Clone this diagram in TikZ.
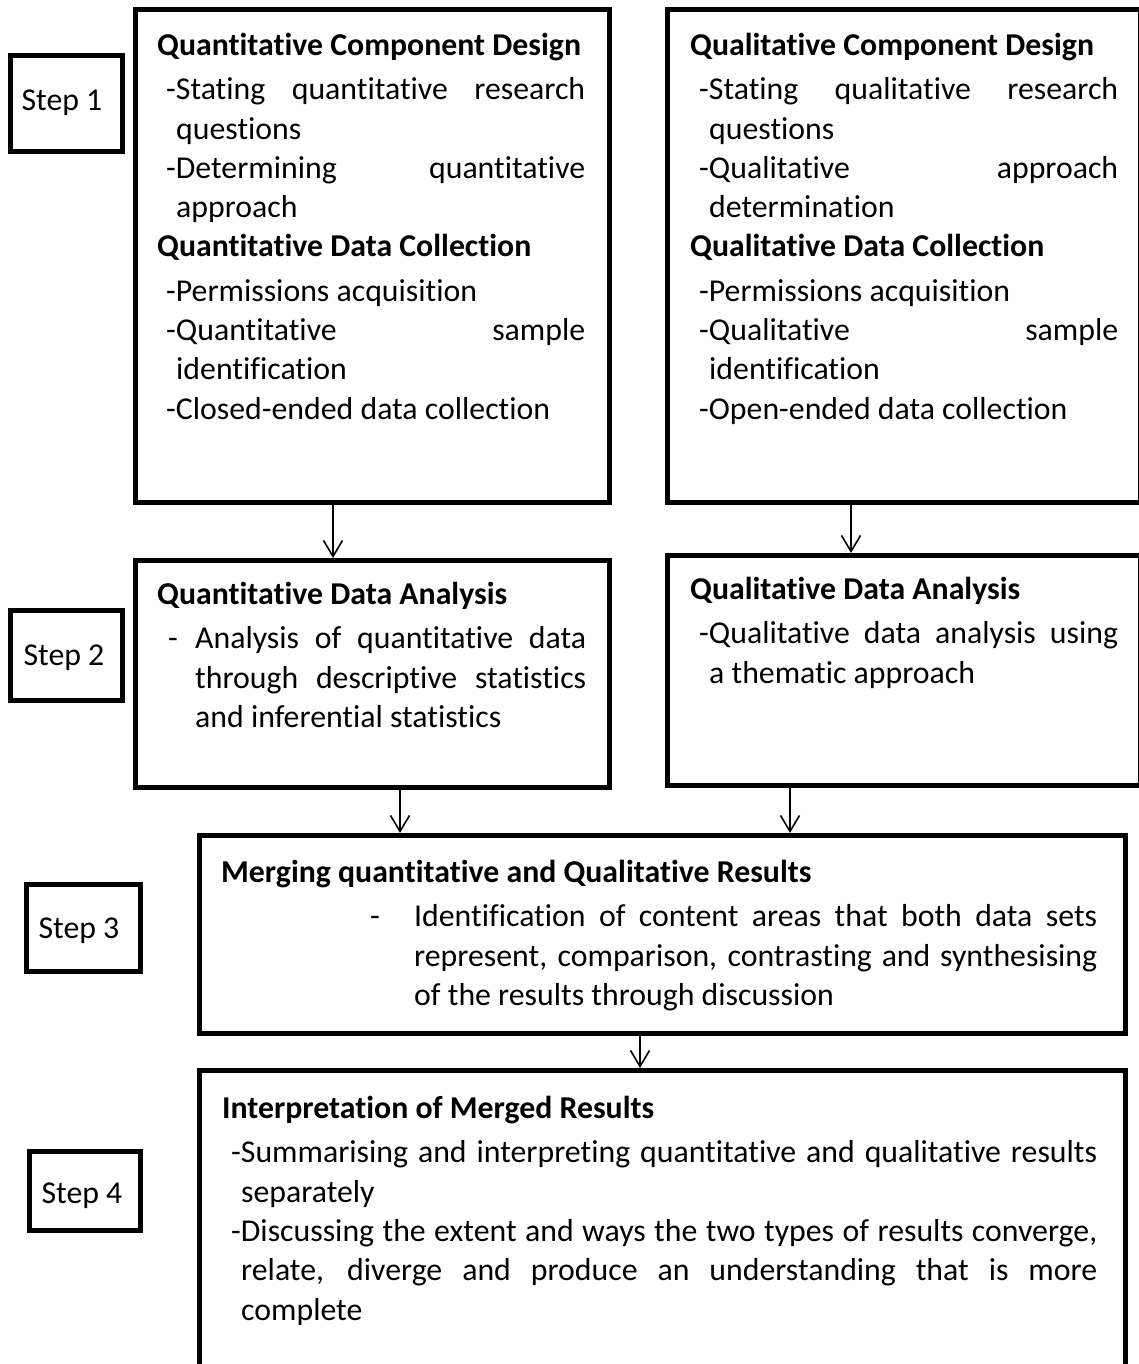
\documentclass[tikz,border=0pt]{standalone}
\usepackage{fontspec}
\setmainfont{Carlito}[Ligatures=NoCommon]
\usetikzlibrary{arrows.meta}
\setlength{\parindent}{0pt}
\tolerance=10000
\hbadness=10000
\hyphenpenalty=10000
\exhyphenpenalty=10000

% bold heading line inside a box
\newcommand{\boxhead}[1]{\par\noindent\mbox{\bfseries\rule{0pt}{30pt}#1}\par\vspace{5pt}}
% dash item, continuation lines hang a little further in
\newcommand{\dashpara}[1]{\par{\leftskip=9pt\hangindent=10pt\hangafter=1\relax #1\par}}
% dash item with the dash set apart from a left-aligned text block
\newcommand{\listpara}[3]{\par{\leftskip=#1\noindent\llap{\makebox[#2][l]{-}}#3\par}}

\tikzset{
  frame/.style={draw, line width=5pt, anchor=north west, inner sep=0pt},
  stepbox/.style={draw, line width=5pt, inner sep=0pt},
  steptext/.style={font=\fontsize{31.8pt}{39.3pt}\selectfont, inner sep=0pt, anchor=base},
  txt/.style={font=\fontsize{31.8pt}{39.3pt}\selectfont, inner sep=0pt, anchor=north west, align=justify},
  arr/.style={line width=1.6pt, -{Straight Barb[length=16pt,width=19pt,line width=1.6pt]}}
}

\begin{document}
\begin{tikzpicture}[x=1pt,y=-1pt]
\useasboundingbox[fill=white] (0,0) rectangle (1139,1364);

% step labels
\node[stepbox, minimum width=112pt, minimum height=96pt] (sf1) at (66.5,103.5) {};
\node[steptext] (st1) at (62,111) {Step 1};
\node[stepbox, minimum width=112pt, minimum height=90pt] (sf2) at (66.5,655.5) {};
\node[steptext] (st2) at (64,665) {Step 2};
\node[stepbox, minimum width=114pt, minimum height=87pt] (sf3) at (83.5,928) {};
\node[steptext] (st3) at (79,938) {Step 3};
\node[stepbox, minimum width=111pt, minimum height=79pt] (sf4) at (85,1191) {};
\node[steptext] (st4) at (82,1203) {Step 4};

% frames
\node[frame, minimum width=474pt, minimum height=493pt] (qn1) at (133,7) {};
\node[frame, minimum width=472.5pt, minimum height=493pt] (ql1) at (665,7) {};
\node[frame, minimum width=474pt, minimum height=227pt] (qn2) at (133,558) {};
\node[frame, minimum width=472.5pt, minimum height=230pt] (ql2) at (665,553) {};
\node[frame, minimum width=926pt, minimum height=198pt] (mrg) at (197,833) {};
\node[frame, minimum width=926pt, minimum height=400pt] (itp) at (197,1068) {};

% texts
\node[txt, text width=428pt] (tqn1) at (157,16) {%
  \boxhead{Quantitative Component Design}
  \dashpara{-Stating quantitative research\linebreak questions}
  \dashpara{-Determining quantitative\linebreak approach}
  \boxhead{Quantitative Data Collection}
  \dashpara{-Permissions acquisition}
  \dashpara{-Quantitative sample\linebreak identification}
  \dashpara{-Closed-ended data collection}};

\node[txt, text width=428pt] (tql1) at (690,16) {%
  \boxhead{Qualitative Component Design}
  \dashpara{-Stating qualitative research\linebreak questions}
  \dashpara{-Qualitative approach\linebreak determination}
  \boxhead{Qualitative Data Collection}
  \dashpara{-Permissions acquisition}
  \dashpara{-Qualitative sample\linebreak identification}
  \dashpara{-Open-ended data collection}};

\node[txt, text width=429pt] (tqn2) at (157,565) {%
  \boxhead{Quantitative Data Analysis}
  \listpara{38pt}{27pt}{Analysis of quantitative data\linebreak through descriptive statistics\linebreak and inferential statistics}};

\node[txt, text width=428pt] (tql2) at (690,560) {%
  \boxhead{Qualitative Data Analysis}
  \dashpara{-Qualitative data analysis using\linebreak a thematic approach}};

\node[txt, text width=876pt] (tmrg) at (221,843) {%
  \boxhead{Merging quantitative and Qualitative Results}
  \listpara{193pt}{44pt}{Identification of content areas that both data sets\linebreak represent, comparison, contrasting and synthesising\linebreak of the results through discussion}};

\node[txt, text width=875pt] (titp) at (222,1079) {%
  \boxhead{Interpretation of Merged Results}
  \dashpara{-Summarising and interpreting quantitative and qualitative results\linebreak separately}
  \dashpara{-Discussing the extent and ways the two types of results converge,\linebreak relate, diverge and produce an understanding that is more\linebreak complete}};

% connectors
\coordinate (ax1) at (333,0);
\coordinate (ax2) at (851,0);
\coordinate (ax3) at (400,0);
\coordinate (ax4) at (790,0);
\coordinate (ax5) at (640,0);
\draw[arr] (qn1.south -| ax1) -- (qn2.north -| ax1);
\draw[arr] (ql1.south -| ax2) -- (ql2.north -| ax2);
\draw[arr] (qn2.south -| ax3) -- (mrg.north -| ax3);
\draw[arr] (ql2.south -| ax4) -- (mrg.north -| ax4);
\draw[arr] (mrg.south -| ax5) -- (itp.north -| ax5);
\end{tikzpicture}
\end{document}
